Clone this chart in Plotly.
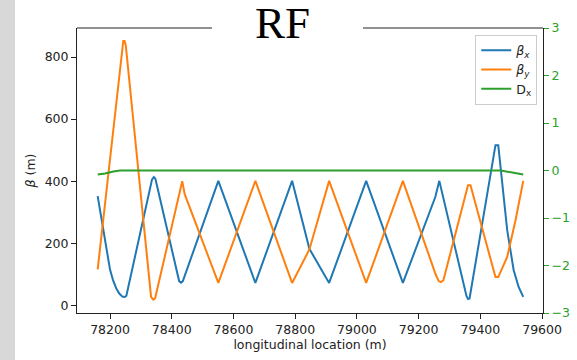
import plotly.graph_objects as go

# ---- data ----
s_bx = [78160, 78170, 78180, 78190, 78200, 78210, 78220, 78230, 78240, 78248, 78253,
        78336, 78342, 78347, 78424, 78430, 78436, 78551, 78671, 78790, 78846, 78910,
        79030, 79149, 79238, 79254, 79267, 79355, 79360, 79365, 79449, 79458, 79487,
        79508, 79524, 79539]
beta_x = [352, 290, 225, 165, 115, 80, 55, 38, 28, 27, 31,
          405, 413, 408, 78, 73, 78, 401, 72, 401, 182, 72,
          401, 72, 306, 349, 401, 30, 20, 22, 516, 516, 242,
          113, 59, 27]

s_by = [78160, 78243, 78247, 78251, 78333, 78340, 78346, 78434, 78442, 78551, 78671,
        78790, 78846, 78910, 79030, 79149, 79255, 79265, 79272, 79280, 79360, 79368,
        79449, 79458, 79487, 79514, 79539]
beta_y = [116, 852, 852, 838, 27, 18, 22, 400, 358, 72, 401,
          72, 180, 401, 72, 401, 100, 78, 75, 80, 387, 387,
          91, 91, 156, 274, 401]

s_dx = [78160, 78184, 78211, 78222, 78232, 79467, 79485, 79503, 79522, 79539]
d_x = [-0.086, -0.065, -0.02, -0.007, 0.0, 0.0, -0.02, -0.05, -0.075, -0.086]

x_ticks = [78200, 78400, 78600, 78800, 79000, 79200, 79400, 79600]
x_labels = [str(v) for v in x_ticks]
y_ticks = [0, 200, 400, 600, 800]
y_labels = [str(v) for v in y_ticks]
y2_ticks = [-3, -2, -1, 0, 1, 2, 3]
y2_labels = ["−3", "−2", "−1", "0", "1", "2", "3"]

BLUE, ORANGE, GREEN = "#1f77b4", "#ff7f0e", "#2ca02c"
FONT = "DejaVu Sans"
LW = 2

fig = go.Figure()
fig.add_trace(go.Scatter(x=s_bx, y=beta_x, mode="lines", name="<i>β</i><sub><i>x</i></sub>",
                         line=dict(color=BLUE, width=LW)))
fig.add_trace(go.Scatter(x=s_by, y=beta_y, mode="lines", name="<i>β</i><sub><i>y</i></sub>",
                         line=dict(color=ORANGE, width=LW)))
fig.add_trace(go.Scatter(x=s_dx, y=d_x, mode="lines", name="D<sub>x</sub>", yaxis="y2",
                         line=dict(color=GREEN, width=LW)))

axis_common = dict(showgrid=False, zeroline=False, ticks="outside", ticklen=5, tickwidth=1,
                   showline=True, linecolor="#222", linewidth=1, automargin=False)

fig.update_layout(
    width=577, height=360,
    margin=dict(l=77, r=34, t=28, b=47, pad=0, autoexpand=False),
    paper_bgcolor="white", plot_bgcolor="white",
    font=dict(family=FONT, size=12.5, color="#222"),
    showlegend=True,
    legend=dict(x=0.9877, xanchor="right", y=0.977, yanchor="top",
                bgcolor="rgba(255,255,255,0.8)", bordercolor="#cccccc", borderwidth=1,
                font=dict(family=FONT, size=12.5, color="#222"), tracegroupgap=0),
    xaxis=dict(range=[78093, 79603], tickvals=x_ticks, ticktext=x_labels, tickcolor="#222",
               title=dict(text="longitudinal location (m)", standoff=4,
                          font=dict(family=FONT, size=12.5)),
               **axis_common),
    yaxis=dict(range=[-24.8, 893.6], tickvals=y_ticks, ticktext=y_labels, tickcolor="#222",
               title=dict(text="<i>β</i> (m)", standoff=6, font=dict(family=FONT, size=12.5)),
               **axis_common),
    yaxis2=dict(range=[-3, 3], tickvals=y2_ticks, ticktext=y2_labels, overlaying="y",
                side="right", tickcolor=GREEN, tickfont=dict(color=GREEN, family=FONT, size=12.5),
                **axis_common),
)
# matplotlib's top spine, interrupted by the title box
fig.add_shape(type="line", xref="paper", yref="paper", x0=0, x1=0.2897, y0=1, y1=1,
              line=dict(color="#222", width=1), layer="above")
fig.add_shape(type="line", xref="paper", yref="paper", x0=0.6137, x1=1, y0=1, y1=1,
              line=dict(color="#222", width=1), layer="above")
# grey strip at the left edge of the picture
fig.add_shape(type="rect", xref="paper", yref="paper", x0=-0.5, x1=-0.133, y0=-0.5, y1=1.5,
              fillcolor="#d8d8d8", line=dict(width=0), layer="below")
fig.add_annotation(text="RF", xref="paper", yref="paper", x=0.442, y=1.0165,
                   xanchor="center", yanchor="middle", showarrow=False,
                   font=dict(family="Liberation Serif", size=45, color="black"))

fig.write_html("out.html", config={"displayModeBar": False},
               post_script="document.body.style.margin='0';document.body.style.overflow='hidden';")
